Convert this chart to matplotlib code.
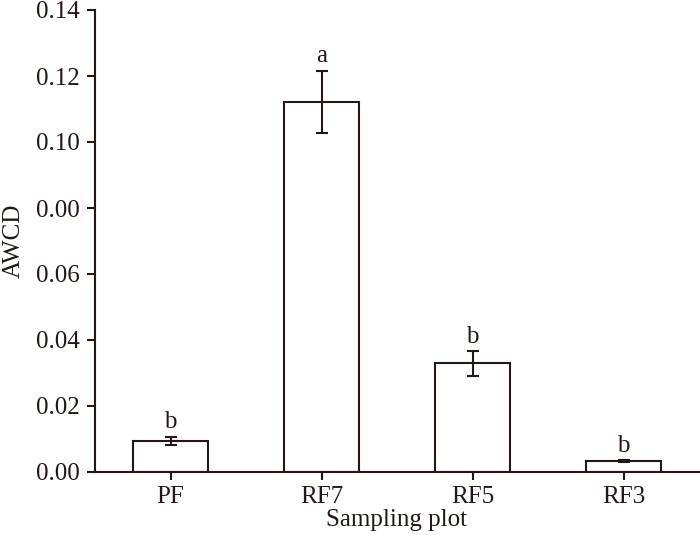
import matplotlib
matplotlib.use("Agg")
import matplotlib.pyplot as plt

categories = ["PF", "RF7", "RF5", "RF3"]
awcd = [0.0094, 0.1122, 0.0329, 0.0033]
err = [0.0012, 0.0094, 0.0037, 0.0002]
letters = ["b", "a", "b", "b"]
yticks = [0.00, 0.02, 0.04, 0.06, 0.08, 0.10, 0.12, 0.14]
ytick_labels = ["0.00", "0.02", "0.04", "0.06", "0.00", "0.10", "0.12", "0.14"]

plt.rcParams['font.family'] = ['Liberation Serif', 'DejaVu Serif']

fig = plt.figure(figsize=(7.0, 5.35), dpi=100)
ax = fig.add_axes([95/700, 63/535, 604/700, 462/535])

x = list(range(len(categories)))
ax.bar(x, awcd, width=0.5, color="white", edgecolor="#231815", linewidth=1.5,
       yerr=err, error_kw=dict(ecolor="#231815", elinewidth=1.5, capsize=4, capthick=1.5))
for xi, v, e, l in zip(x, awcd, err, letters):
    ax.text(xi, v + e + 0.0011, l, ha="center", va="bottom", fontsize=18, color="#231815")

ax.set_xlim(-0.5, 3.5)
ax.set_ylim(0, 0.14)
ax.set_xticks(x)
ax.set_xticklabels(categories)
ax.set_yticks(yticks)
ax.set_yticklabels(ytick_labels)
for s in ["top", "right"]:
    ax.spines[s].set_visible(False)
for s in ["left", "bottom"]:
    ax.spines[s].set_linewidth(1.5)
    ax.spines[s].set_color("#231815")
ax.tick_params(direction="out", length=6, width=1.5, colors="#231815", labelsize=18)
ax.tick_params(axis="x", pad=4)
ax.tick_params(axis="y", pad=5)
ax.set_xlabel("Sampling plot", fontsize=18, color="#231815", labelpad=1)
ax.set_ylabel("AWCD", fontsize=18, color="#231815", labelpad=8)

fig.savefig("out.png", dpi=100)
